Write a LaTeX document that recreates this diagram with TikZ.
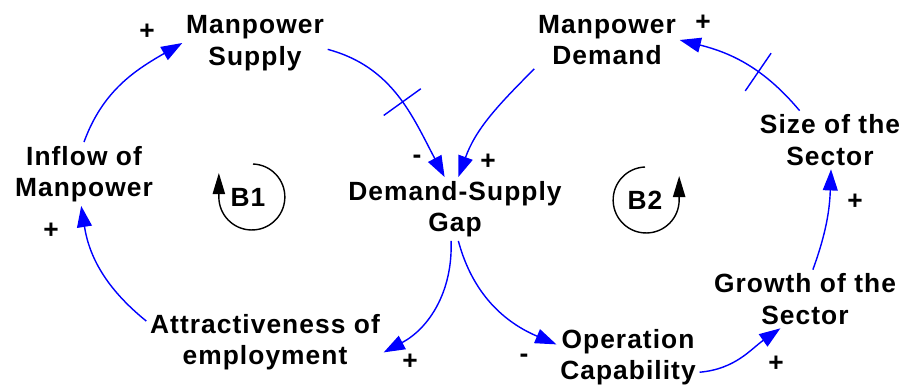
\documentclass[tikz,border=0pt]{standalone}
\usepackage{fontspec}
\setmainfont[LetterSpace=4]{Liberation Sans}
\usetikzlibrary{arrows.meta,decorations.markings}
\tikzset{
	var/.style={align=center, inner sep=2pt, font=\fontsize{15}{18}\selectfont\bfseries},
	sign/.style={inner sep=0pt, font=\fontsize{15}{18}\selectfont\bfseries},
	link/.style={blue, line width=0.8pt, -{Triangle[length=12pt,width=8.5pt]}},
	delaymark/.style={postaction={decorate, decoration={markings, mark=at position #1 with {\draw[-, blue, line width=0.8pt] (0,-13pt) -- (0,13pt);}}}},
	loopsym/.style={line width=0.8pt, -{Triangle[length=12pt,width=7pt]}}
}

\begin{document}
\begin{tikzpicture}[x=0.02cm, y=0.02cm]
	\useasboundingbox (0,0) rectangle (906,387);
	%%%nodes
	%left loop
	\node[var] at (84,213) (IM){Inflow of\\Manpower};
	\node[var] at (255,344) (MS){Manpower\\Supply};
	\node[var] at (265,45) (AE){Attractiveness of\\employment};
	%middle
	\node[var] at (455,178) (DSG){Demand-Supply\\Gap};
	%right loop
	\node[var] at (607,347) (MD){Manpower\\Demand};
	\node[var] at (830,247) (SS){Size of the\\Sector};
	\node[var] at (805,88) (GS){Growth of the\\Sector};
	\node[var] at (628,30) (OC){Operation\\Capability};
	%loop names
	\node[var] at (248,190) (B1){B1};
	\node[var] at (645,187) (B2){B2};
	%%%signs
	\node[sign] at (147,355) (sMS){+};
	\node[sign] at (417,228) (sDSGl){-};
	\node[sign] at (488,225) (sDSGr){+};
	\node[sign] at (703,364) (sMD){+};
	\node[sign] at (855,185) (sSS){+};
	\node[sign] at (776,23) (sGS){+};
	\node[sign] at (524,29) (sOC){-};
	\node[sign] at (410,25) (sAE){+};
	\node[sign] at (51,156) (sIM){+};
	%%%links
	%loop B1
	\draw[link] (IM.north) to[out=70, in=210] (MS.west);
	\draw[link, delaymark=0.52] (MS.-5) to[out=-15, in=118] (DSG.108);
	\draw[link] (DSG.-97) to[out=-88, in=28] (AE.-5);
	\draw[link] (AE.170) to[out=141, in=-81] (IM.265);
	%loop B2
	\draw[link] (MD.south west) to[out=-135, in=70] (DSG.84);
	\draw[link] (DSG.-84) to[out=-75, in=157] (OC.170);
	\draw[link] (OC.-12) to[out=5, in=215] (GS.-130);
	\draw[link] (GS.75) to[out=70, in=-92] (SS.-88);
	\draw[link, delaymark=0.4] (SS.136) to[out=130, in=-14] (MD.east);
	%%%loop symbols
	\draw[loopsym] (253,223) arc[start angle=88, end angle=-180, radius=33] -- ++(0,24);
	\draw[loopsym] (645,220) arc[start angle=92, end angle=360, radius=33] -- ++(0,24);
\end{tikzpicture}
\end{document}
